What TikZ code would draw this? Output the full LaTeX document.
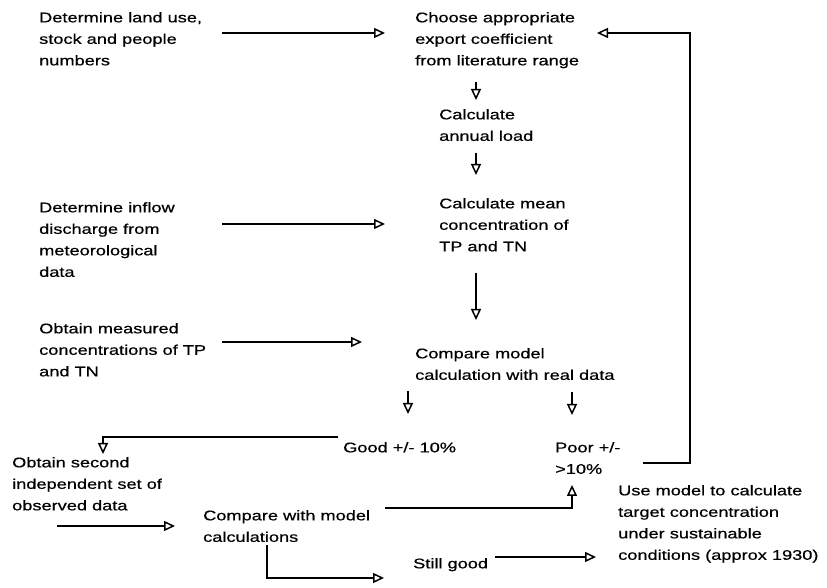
\documentclass[tikz,border=0pt]{standalone}
\usepackage{fontspec}
\setmainfont{Liberation Sans}[FakeStretch=1.3, FakeBold=0.6]
\usetikzlibrary{arrows.meta}
\tikzset{
  txt/.style={anchor=north west, inner sep=0pt, align=left, font=\fontsize{14}{21.5}\selectfont},
  flow/.style={line width=1.5pt, -{Triangle[open, length=11pt, width=10pt, line width=1.5pt]}}
}
\begin{document}
\begin{tikzpicture}[x=1pt, y=1pt]
\useasboundingbox (0,0) rectangle (827,588);
\node[txt] (landuse) at (39,576) {Determine land use,\\stock and people\\numbers};
\node[txt] (choose) at (415,576) {Choose appropriate\\export coefficient\\from literature range};
\node[txt] (annual) at (439,479) {Calculate\\annual load};
\node[txt] (meanconc) at (439,390) {Calculate mean\\concentration of\\TP and TN};
\node[txt] (inflow) at (39,386) {Determine inflow\\discharge from\\meteorological\\data};
\node[txt] (measured) at (39,265) {Obtain measured\\concentrations of TP\\and TN};
\node[txt] (compare) at (415,240) {Compare model\\calculation with real data};
\node[txt] (good) at (343,146) {Good +/- 10\%};
\node[txt] (poor) at (555,146) {Poor +/-\\>10\%};
\node[txt] (second) at (12,131) {Obtain second\\independent set of\\observed data};
\node[txt] (withmodel) at (203,78) {Compare with model\\calculations};
\node[txt] (target) at (618,103) {Use model to calculate\\target concentration\\under sustainable\\conditions (approx 1930)};
\node[txt] (still) at (413,30) {Still good};
\draw[flow] ([shift={(183,-21)}]landuse.north west) -- ([shift={(-30,-21)}]choose.north west);
\draw[flow] ([shift={(183,-22)}]inflow.north west) -- ([shift={(-54,-26)}]meanconc.north west);
\draw[flow] ([shift={(183,-19)}]measured.north west) -- ([shift={(-53,6)}]compare.north west);
\draw[flow] ([shift={(61,-70)}]choose.north west) -- ([shift={(37,9)}]annual.north west);
\draw[flow] ([shift={(37,-44)}]annual.north west) -- ([shift={(37,23)}]meanconc.north west);
\draw[flow] ([shift={(37,-75)}]meanconc.north west) -- ([shift={(61,28)}]compare.north west);
\draw[flow] ([shift={(-7,-43)}]compare.north west) -- ([shift={(65,28)}]good.north west);
\draw[flow] ([shift={(157,-44)}]compare.north west) -- ([shift={(17,27)}]poor.north west);
\draw[flow] ([shift={(88,-21)}]poor.north west) -- ++(47,0) |- ([shift={(182,-21)}]choose.north west);
\draw[flow] ([shift={(-5,5)}]good.north west) -| ([shift={(91,3)}]second.north west);
\draw[flow] ([shift={(45,-69)}]second.north west) -- ([shift={(-28,-16)}]withmodel.north west);
\draw[flow] ([shift={(182,2)}]withmodel.north west) -| ([shift={(17,-43)}]poor.north west);
\draw[flow] ([shift={(64,-35)}]withmodel.north west) |- ([shift={(-29,-20)}]still.north west);
\draw[flow] ([shift={(82,1)}]still.north west) -- ([shift={(-22,-72)}]target.north west);
\end{tikzpicture}
\end{document}
